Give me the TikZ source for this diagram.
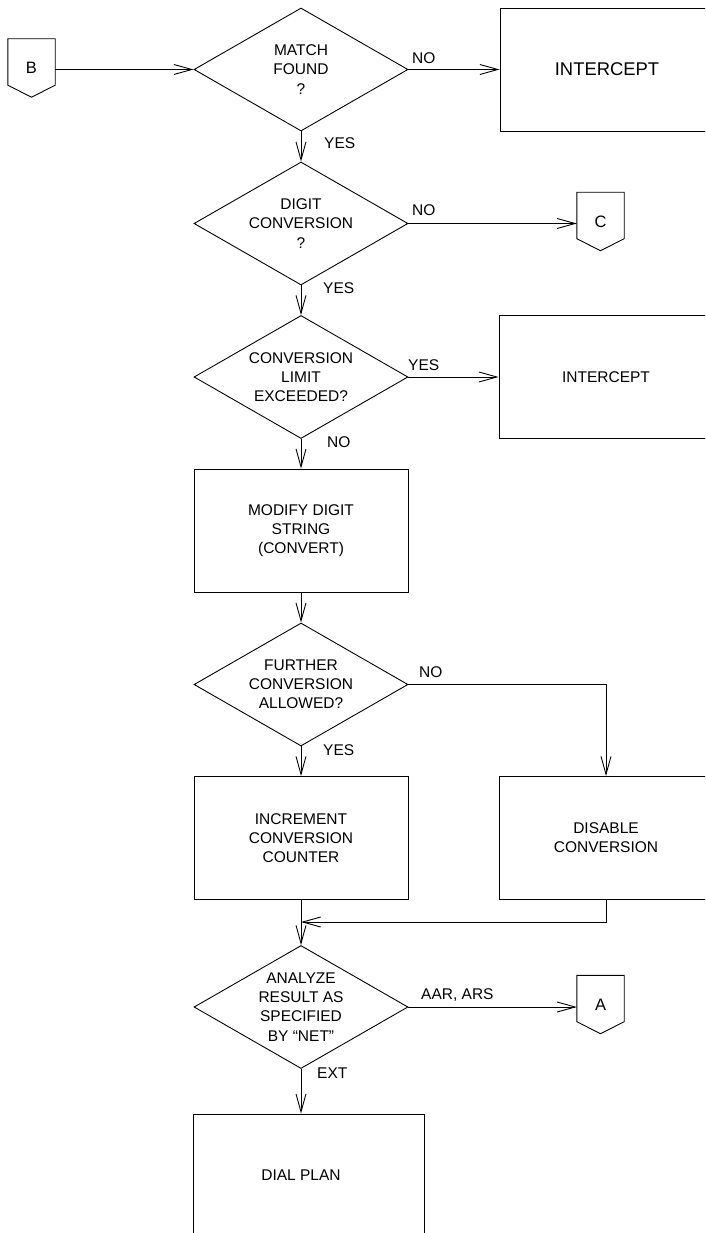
\documentclass[tikz,border=0pt]{standalone}
\usepackage{fontspec}
\setmainfont{Liberation Sans}
\usetikzlibrary{shapes.geometric,arrows.meta}
\begin{document}
\begin{tikzpicture}[x=1pt,y=-1pt,
  every node/.style={font=\fontsize{15.5}{19.2}\selectfont, align=center},
  dec/.style={diamond, draw, line width=0.9pt, minimum width=214, minimum height=123, inner sep=0pt, aspect=1.74},
  box/.style={rectangle, draw, line width=0.9pt, minimum width=214, minimum height=123, inner sep=0pt},
  conn/.style={rectangle, minimum width=47, minimum height=58, inner sep=0pt, font=\fontsize{16.5}{19}\selectfont},
  connline/.style={line width=0.9pt},
  lbl/.style={anchor=west, inner sep=0pt},
  arr/.style={line width=0.9pt, -{Straight Barb[length=18pt,width=10pt]}},
  ln/.style={line width=0.9pt}]
\useasboundingbox (0,0) rectangle (705,1233);
\clip (0,0) rectangle (705,1233);

% off-page connectors
\node[conn] (B) at (31.5,68) {B};
\node[conn] (C) at (600.5,221.5) {C};
\node[conn] (A) at (600.5,1004.5) {A};
\foreach \n in {B,C,A}
  \draw[connline] (\n.north west) -- (\n.north east) -- ([yshift=12pt]\n.south east)
    -- (\n.south) -- ([yshift=12pt]\n.south west) -- cycle;

% decisions
\node[dec] (d1) at (301,69.5) {MATCH\\FOUND\\?};
\node[dec] (d2) at (301,223.5) {DIGIT\\CONVERSION\\?};
\node[dec] (d3) at (301,377) {CONVERSION\\LIMIT\\EXCEEDED?};
\node[dec] (d4) at (301,684.5) {FURTHER\\CONVERSION\\ALLOWED?};
\node[dec] (d5) at (301,1007) {ANALYZE\\RESULT AS\\SPECIFIED\\BY “NET”};

% boxes
\node[box, font=\fontsize{18.4}{22}\selectfont] (I1) at (607,69.5) {INTERCEPT};
\node[box] (I2) at (606,377) {INTERCEPT};
\node[box] (M) at (301,530.5) {MODIFY DIGIT\\STRING\\(CONVERT)};
\node[box] (Inc) at (301,838) {INCREMENT\\CONVERSION\\COUNTER};
\node[box] (D) at (606,838) {DISABLE\\CONVERSION};
\node[box, minimum width=231] (DP) at (308.5,1175.5) {\hspace*{-15pt}DIAL PLAN};

% labels
\node[lbl] (l1) at (412,58) {NO};
\node[lbl] (l2) at (324,143) {YES};
\node[lbl] (l3) at (412,210) {NO};
\node[lbl] (l4) at (323,288) {YES};
\node[lbl] (l5) at (408,365) {YES};
\node[lbl] (l6) at (327,442) {NO};
\node[lbl] (l7) at (419,672) {NO};
\node[lbl] (l8) at (323,750) {YES};
\node[lbl] (l9) at (421,995) {AAR, ARS};
\node[lbl] (l10) at (317,1073) {EXT};

% connectors
\draw[arr] (d1.west -| B.east) -- (d1.west);
\draw[arr] (d1.east) -- (I1.west);
\draw[arr] (d1.south) -- (d2.north);
\draw[arr] (d2.east) -- (d2.east -| C.west);
\draw[arr] (d2.south) -- (d3.north);
\draw[arr] (d3.east) -- (I2.west);
\draw[arr] (d3.south) -- (M.north);
\draw[arr] (M.south) -- (d4.north);
\draw[arr] (d4.south) -- (Inc.north);
\draw[arr] (d4.east) -| (D.north);
\draw[arr] (Inc.south) -- (d5.north);
\coordinate (merge) at (301,922);
\draw[arr] (D.south) |- (merge);
\draw[arr] (d5.east) -- (d5.east -| A.west);
\draw[arr] (d5.south) -- (d5.south |- DP.north);
\end{tikzpicture}
\end{document}
